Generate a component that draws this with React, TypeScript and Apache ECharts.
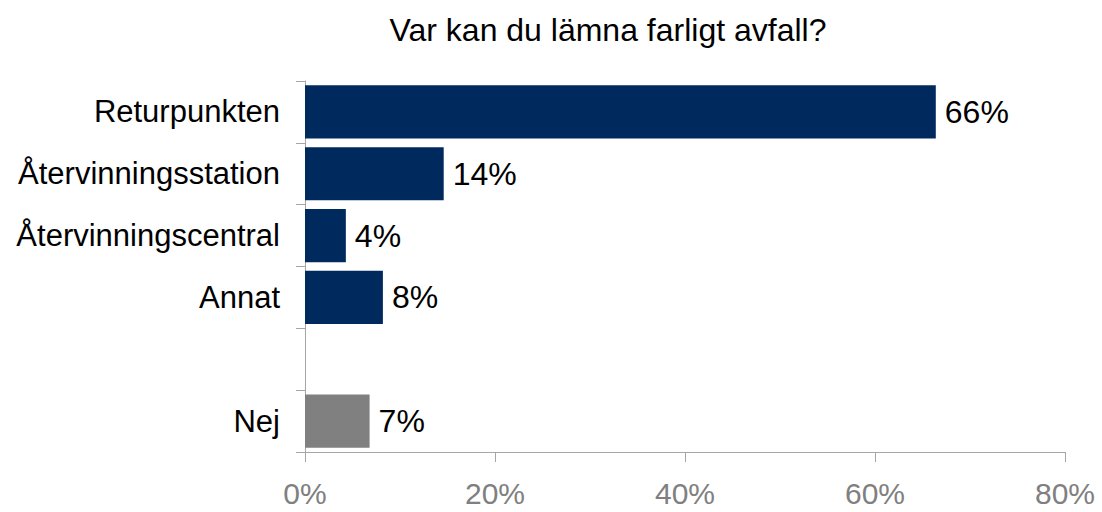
import React, { useEffect, useRef } from "react";
import * as echarts from "echarts";

const titleText = "Var kan du lämna farligt avfall?";
const categories = ["Returpunkten", "Återvinningsstation", "Återvinningscentral", "Annat", "", "Nej"];
const values: (number | null)[] = [66.4, 14.6, 4.3, 8.2, null, 6.8];
const labels = ["66%", "14%", "4%", "8%", "", "7%"];
const barColors = ["#002A5E", "#002A5E", "#002A5E", "#002A5E", "#002A5E", "#808080"];

export default function App() {
  const ref = useRef<HTMLDivElement>(null);
  useEffect(() => {
    const chart = echarts.init(ref.current!, null, { renderer: "svg" });
    const font = "'Liberation Sans', Arial, sans-serif";
    chart.setOption({
      animation: false,
      textStyle: { fontFamily: font },
      title: {
        text: titleText,
        left: 603,
        top: 9,
        textAlign: "center",
        textStyle: { fontSize: 32, fontWeight: "normal", color: "#000", fontFamily: font },
      },
      grid: { left: 305, right: 37, top: 81, bottom: 60, containLabel: false },
      xAxis: {
        type: "value",
        min: 0,
        max: 80,
        interval: 20,
        axisLine: { show: true, lineStyle: { color: "#a6a6a6", width: 1 } },
        axisTick: { show: true, length: 10, lineStyle: { color: "#a6a6a6" } },
        splitLine: { show: false },
        axisLabel: {
          formatter: (v: number) => v + "%",
          color: "#808080",
          fontSize: 30,
          margin: 26,
          fontFamily: font,
        },
      },
      yAxis: {
        type: "category",
        data: categories,
        inverse: true,
        axisLine: { show: true, lineStyle: { color: "#a6a6a6", width: 1 } },
        axisTick: { show: true, length: 9, lineStyle: { color: "#a6a6a6" } },
        axisLabel: { color: "#000", fontSize: 31, margin: 25, fontFamily: font },
      },
      series: [
        {
          type: "bar",
          data: values.map((v, i) => ({ value: v, itemStyle: { color: barColors[i] } })),
          barCategoryGap: "14%",
          label: {
            show: true,
            position: "right",
            distance: 9,
            color: "#000",
            fontSize: 32,
            fontFamily: font,
            formatter: (p: any) => labels[p.dataIndex],
          },
        },
      ],
    });
    return () => chart.dispose();
  }, []);
  return <div ref={ref} style={{ width: 1102, height: 512, position: "absolute", left: 0, top: 0 }} />;
}
